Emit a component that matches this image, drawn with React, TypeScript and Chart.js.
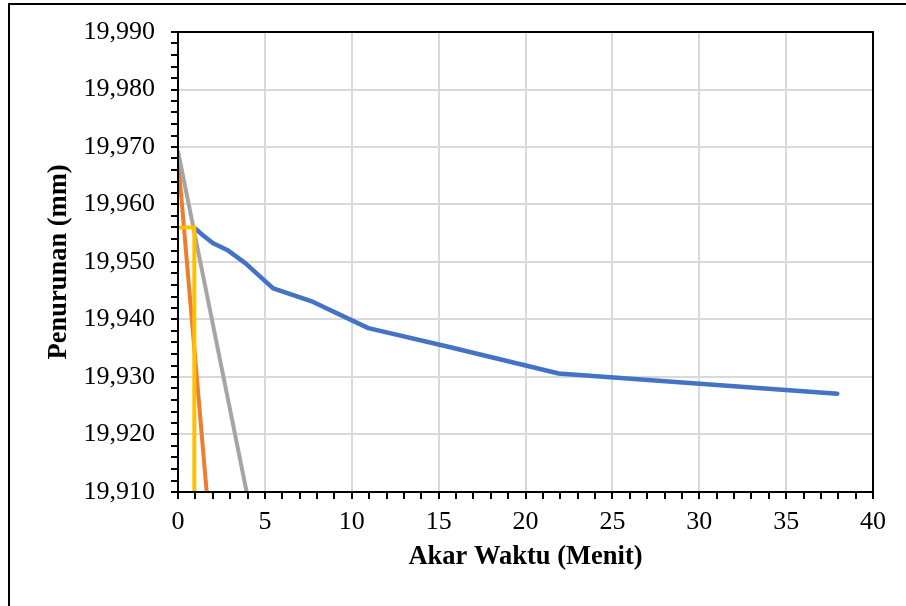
import React, { useEffect, useRef } from "react";
import { Chart, registerables } from "chart.js";

Chart.register(...registerables);

// Akar waktu (sqrt of minutes) and settlement readings
const blueX = [1, 1.414, 2, 2.828, 3.873, 5.477, 7.746, 10.954, 15.492, 21.909, 37.947];
const blueY = [19.9558, 19.9547, 19.9533, 19.9521, 19.9498, 19.9454, 19.9431, 19.9385, 19.9353, 19.9306, 19.9271];

const orangeX = [0, 1.65];
const orangeY = [19.968, 19.91];

const grayX = [0, 3.95];
const grayY = [19.9693, 19.91];

const yellowX = [0, 0.94, 0.94];
const yellowY = [19.956, 19.956, 19.91];

const xMin = 0;
const xMax = 40;
const xMinorStep = 1;
const xMajorStep = 5;
const yMin = 19.91;
const yMax = 19.99;
const yMinorStep = 0.002;

const xTitle = "Akar Waktu (Menit)";
const yTitle = "Penurunan (mm)";

const FONT = "'Liberation Serif', 'Times New Roman', serif";

function pts(xs: number[], ys: number[]) {
  return xs.map((x, i) => ({ x, y: ys[i] }));
}

const isXMajor = (v: number) => Math.round(v) % xMajorStep === 0;
const isYMajor = (v: number) => Math.round(v * 1000) % 10 === 0;

export default function App() {
  const ref = useRef<HTMLCanvasElement>(null);

  useEffect(() => {
    const canvas = ref.current!;
    const frame = {
      id: "plotFrame",
      afterDatasetsDraw(chart: any) {
        const { left, top, right, bottom } = chart.chartArea;
        const c = chart.ctx;
        c.save();
        c.strokeStyle = "#000";
        c.lineWidth = 2;
        c.strokeRect(left, top, right - left, bottom - top);
        c.restore();
      },
    };

    const chart = new Chart(canvas, {
      type: "line",
      data: {
        datasets: [
          {
            data: pts(blueX, blueY),
            borderColor: "#4472C4",
            borderWidth: 4.5,
            pointRadius: 0,
            borderJoinStyle: "round",
            borderCapStyle: "round",
            order: 4,
          },
          {
            data: pts(orangeX, orangeY),
            borderColor: "#ED7D31",
            borderWidth: 4,
            pointRadius: 0,
            order: 3,
          },
          {
            data: pts(grayX, grayY),
            borderColor: "#A5A5A5",
            borderWidth: 4,
            pointRadius: 0,
            order: 2,
          },
          {
            data: pts(yellowX, yellowY),
            borderColor: "#FFC000",
            borderWidth: 4,
            pointRadius: 0,
            order: 1,
          },
        ],
      },
      options: {
        responsive: false,
        animation: false,
        devicePixelRatio: 1,
        layout: { padding: { top: 32, right: 33, left: 0, bottom: 0 } },
        plugins: { legend: { display: false }, tooltip: { enabled: false } },
        elements: { line: { tension: 0 } },
        scales: {
          x: {
            type: "linear",
            min: xMin,
            max: xMax,
            afterFit: (s: any) => {
              s.height = 114;
            },
            ticks: {
              stepSize: xMinorStep,
              autoSkip: false,
              maxRotation: 0,
              padding: 8,
              color: "#000",
              font: { family: FONT, size: 26 },
              callback: (v: any) => (isXMajor(Number(v)) ? String(Math.round(Number(v))) : ""),
            },
            grid: {
              color: (ctx: any) => (ctx.tick && isXMajor(ctx.tick.value) ? "#d9d9d9" : "rgba(0,0,0,0)"),
              lineWidth: 2,
              tickColor: "#000",
              tickLength: 7,
              tickWidth: 2,
            },
            border: { color: "#000", width: 2 },
            title: {
              display: true,
              text: xTitle,
              color: "#000",
              font: { family: FONT, size: 26.5, weight: "bold" },
              padding: { top: 0, bottom: 33 },
            },
          },
          y: {
            type: "linear",
            min: yMin,
            max: yMax,
            afterFit: (s: any) => {
              s.width = 178;
            },
            ticks: {
              stepSize: yMinorStep,
              autoSkip: false,
              padding: 16,
              color: "#000",
              font: { family: FONT, size: 26 },
              callback: (v: any) => {
                const n = Number(v);
                return isYMajor(n) ? n.toFixed(3).replace(".", ",") : "";
              },
            },
            grid: {
              color: (ctx: any) => (ctx.tick && isYMajor(ctx.tick.value) ? "#d9d9d9" : "rgba(0,0,0,0)"),
              lineWidth: 2,
              tickColor: "#000",
              tickLength: 7,
              tickWidth: 2,
            },
            border: { color: "#000", width: 2 },
            title: {
              display: true,
              text: yTitle,
              color: "#000",
              font: { family: FONT, size: 26.5, weight: "bold" },
              padding: { top: 43, bottom: 0 },
            },
          },
        },
      },
      plugins: [frame],
    } as any);

    return () => chart.destroy();
  }, []);

  return (
    <div style={{ position: "fixed", left: 0, top: 0, width: 906, height: 606, overflow: "hidden", background: "#fff" }}>
      <canvas ref={ref} width={906} height={606} style={{ position: "absolute", left: 0, top: 0 }} />
      <div
        style={{
          position: "absolute",
          left: 8,
          top: 3,
          width: 1000,
          height: 1000,
          border: "2px solid #000",
          boxSizing: "border-box",
          pointerEvents: "none",
        }}
      />
    </div>
  );
}
